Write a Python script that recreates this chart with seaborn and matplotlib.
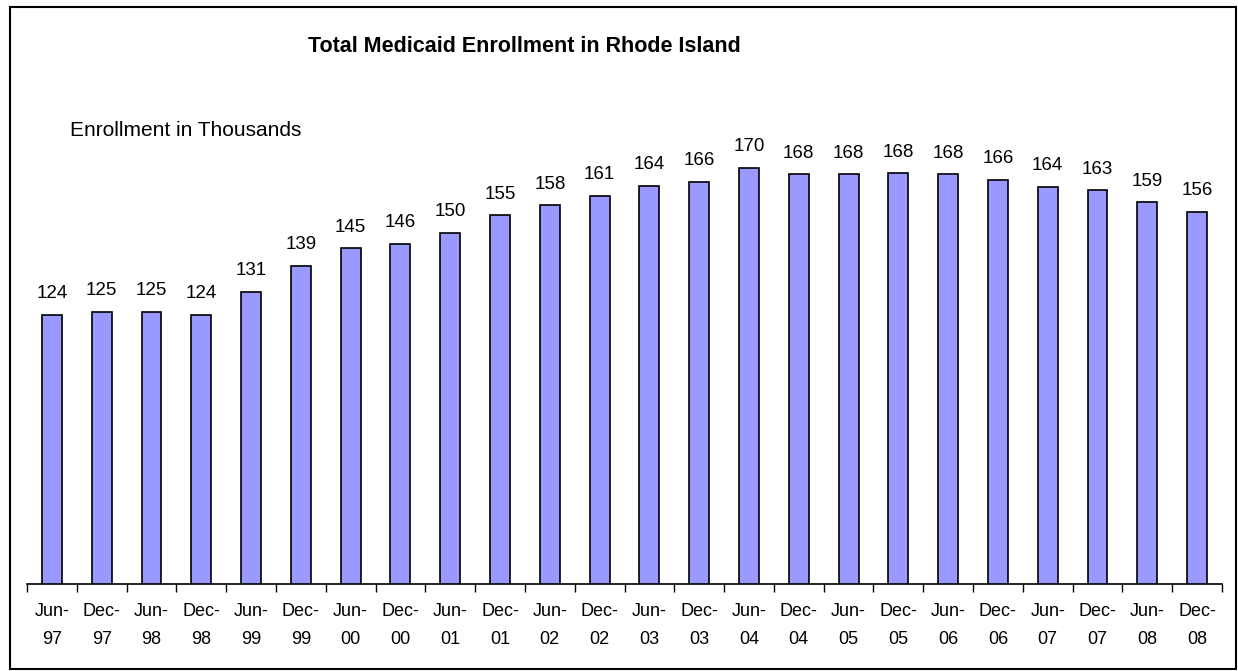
import matplotlib
matplotlib.use("Agg")
import matplotlib.pyplot as plt
import seaborn as sns
import pandas as pd
from matplotlib.patches import Rectangle

periods = ["Jun-\n97", "Dec-\n97", "Jun-\n98", "Dec-\n98", "Jun-\n99", "Dec-\n99",
           "Jun-\n00", "Dec-\n00", "Jun-\n01", "Dec-\n01", "Jun-\n02", "Dec-\n02",
           "Jun-\n03", "Dec-\n03", "Jun-\n04", "Dec-\n04", "Jun-\n05", "Dec-\n05",
           "Jun-\n06", "Dec-\n06", "Jun-\n07", "Dec-\n07", "Jun-\n08", "Dec-\n08"]
enrollment = [124.1, 125.1, 125.1, 124.1, 131.4, 139.4, 144.9, 146.4, 149.8, 155.3,
              158.4, 161.3, 164.4, 165.7, 170.1, 168.0, 168.0, 168.4, 168.0, 166.4,
              164.2, 163.1, 159.3, 156.3]
labels = ["124", "125", "125", "124", "131", "139", "145", "146", "150", "155",
          "158", "161", "164", "166", "170", "168", "168", "168", "168", "166",
          "164", "163", "159", "156"]

df = pd.DataFrame({"period": periods, "enrollment": enrollment})

sns.set_style("white")
plt.rcParams['font.family'] = ['Liberation Sans', 'DejaVu Sans']
plt.rcParams['text.color'] = 'black'
plt.rcParams['xtick.color'] = 'black'

W, H = 1238, 671
fig = plt.figure(figsize=(W / 100, H / 100), dpi=100)
ax = fig.add_axes([27 / W, 1 - 584 / H, (1222 - 27) / W, (584 - 136) / H])

sns.barplot(data=df, x="period", y="enrollment", color="#9999FF", saturation=1,
            width=0.4, edgecolor="black", linewidth=1.2, ax=ax)

ax.bar_label(ax.containers[0], labels=labels, padding=9, fontsize=13.5, color="black")

ax.set_xlim(-0.5, len(periods) - 0.5)
ax.set_ylim(40, 180)
ax.set_xlabel("")
ax.set_ylabel("")
ax.set_yticks([])
for side in ["top", "right", "left"]:
    ax.spines[side].set_visible(False)
ax.spines["bottom"].set_color("black")
ax.spines["bottom"].set_linewidth(1.2)

ax.set_xticks(range(len(periods)))
ax.set_xticklabels(periods, fontsize=13, linespacing=1.85, color="black")
ax.set_xticks([i - 0.5 for i in range(len(periods) + 1)], minor=True)
ax.tick_params(axis="x", which="major", length=0, pad=14)
ax.tick_params(axis="x", which="minor", length=6, width=1, color="black",
               direction="out", bottom=True)

fig.text(524 / W, 1 - 46 / H, "Total Medicaid Enrollment in Rhode Island",
         ha="center", va="center", fontsize=15.5, fontweight="bold", color="black")
fig.text(70 / W, 1 - 131 / H, "Enrollment in Thousands", ha="left", va="center",
         fontsize=15, color="black")

fig.patches.append(Rectangle((10 / W, 1 - 669 / H), (1236 - 10) / W, (669 - 7) / H,
                             transform=fig.transFigure, fill=False,
                             edgecolor="black", linewidth=1.5))

fig.savefig("out.png", dpi=100)
